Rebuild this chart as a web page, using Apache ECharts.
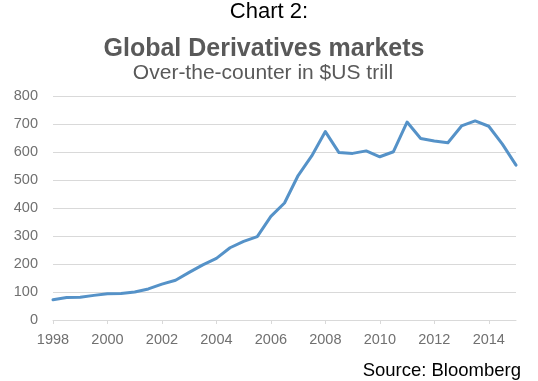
<!DOCTYPE html>
<html>
<head>
<meta charset="utf-8">
<script src="https://cdn.jsdelivr.net/npm/echarts@6/dist/echarts.min.js"></script>
<style>
  html, body { margin: 0; padding: 0; background: #ffffff; }
  #chart { width: 538px; height: 381px; }
</style>
</head>
<body>
<div id="chart"></div>
<script>
// Semiannual observation dates (mid-year / year-end), plotted as decimal years
const periods = [
  1998, 1998.5, 1999, 1999.5, 2000, 2000.5, 2001, 2001.5, 2002, 2002.5,
  2003, 2003.5, 2004, 2004.5, 2005, 2005.5, 2006, 2006.5, 2007, 2007.5,
  2008, 2008.5, 2009, 2009.5, 2010, 2010.5, 2011, 2011.5, 2012, 2012.5,
  2013, 2013.5, 2014, 2014.5, 2015
];
// OTC derivatives notional outstanding, $US trillion
const otcNotional = [
  72, 80, 81, 88, 94, 95, 100, 111, 128, 142,
  170, 197, 220, 258, 281, 298, 370, 418, 516, 586,
  673, 598, 595, 604, 583, 601, 707, 648, 639, 633,
  693, 711, 692, 628, 553
];
const yTicks = [0, 100, 200, 300, 400, 500, 600, 700, 800];
const xTicks = [1998, 2000, 2002, 2004, 2006, 2008, 2010, 2012, 2014];

const chart = echarts.init(document.getElementById('chart'), null, { renderer: 'canvas' });

const font = 'Arial, "Liberation Sans", sans-serif';

chart.setOption({
  animation: false,
  backgroundColor: '#ffffff',
  grid: { left: 53, right: 22, top: 96, bottom: 61, containLabel: false },
  graphic: [
    { type: 'text', left: 'center', top: 1,
      style: { text: 'Chart 2:', font: '22px ' + font, fill: '#000000' } },
    { type: 'text', x: 264, y: 37,
      style: { text: 'Global Derivatives markets', font: 'bold 25px ' + font,
               fill: '#595959', align: 'center', verticalAlign: 'top' } },
    { type: 'text', x: 263, y: 63,
      style: { text: 'Over-the-counter in $US trill', font: '21px ' + font,
               fill: '#595959', align: 'center', verticalAlign: 'top' } },
    { type: 'text', x: 521, y: 361,
      style: { text: 'Source: Bloomberg', font: '18.5px ' + font,
               fill: '#000000', align: 'right', verticalAlign: 'top' } }
  ],
  xAxis: {
    type: 'value',
    min: xTicks[0],
    max: 2015,
    interval: 2,
    axisLine: { show: true, lineStyle: { color: '#d9d9d9', width: 1 } },
    axisTick: { show: true, length: 4, lineStyle: { color: '#d9d9d9' } },
    splitLine: { show: false },
    axisLabel: {
      showMaxLabel: false,
      margin: 12,
      color: '#707070',
      fontFamily: font,
      fontSize: 14.5,
      formatter: v => (xTicks.includes(v) ? String(v) : '')
    }
  },
  yAxis: {
    type: 'value',
    min: yTicks[0],
    max: yTicks[yTicks.length - 1],
    interval: 100,
    axisLine: { show: false },
    axisTick: { show: false },
    splitLine: { show: true, lineStyle: { color: '#d9d9d9', width: 1 } },
    axisLabel: {
      margin: 15,
      color: '#707070',
      fontFamily: font,
      fontSize: 14.5
    }
  },
  series: [{
    type: 'line',
    data: periods.map((p, i) => [p, otcNotional[i]]),
    showSymbol: false,
    symbol: 'none',
    lineStyle: { color: '#5592c8', width: 3, join: 'round', cap: 'round' }
  }]
});
</script>
</body>
</html>
